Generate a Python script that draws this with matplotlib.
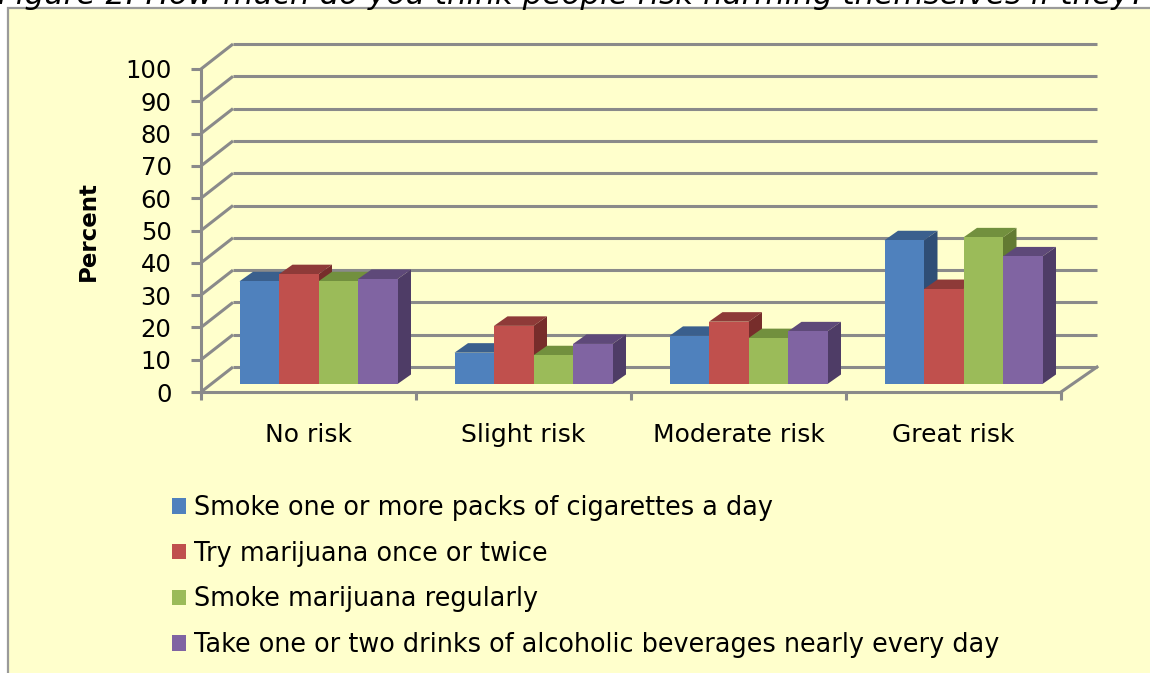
import matplotlib
matplotlib.use("Agg")
import matplotlib.pyplot as plt
from matplotlib.patches import Polygon, Rectangle, Patch

# ---------------- data ----------------
categories = ["No risk", "Slight risk", "Moderate risk", "Great risk"]
series_names = [
    "Smoke one or more packs of cigarettes a day",
    "Try marijuana once or twice",
    "Smoke marijuana regularly",
    "Take one or two drinks of alcoholic beverages nearly every day",
]
cigarettes = [31.8, 9.7, 14.9, 44.5]
marijuana_once = [34.0, 18.0, 19.3, 29.4]
marijuana_regular = [31.8, 8.9, 14.2, 45.4]
alcohol_daily = [32.5, 12.4, 16.3, 39.5]
y_ticks = list(range(0, 101, 10))
title_text = "Figure 2: How much do you think people risk harming themselves if they?"
y_label = "Percent"

series_values = [cigarettes, marijuana_once, marijuana_regular, alcohol_daily]
front_colors = ["#4F81BD", "#C0504D", "#9BBB59", "#8064A2"]
top_colors = ["#3A5F8D", "#8E3A38", "#72903E", "#5E4979"]
side_colors = ["#2F4E76", "#772D2B", "#627A32", "#4E3C66"]

W, H = 1150, 673
fig = plt.figure(figsize=(W / 100, H / 100), dpi=100)
fig.patch.set_facecolor("white")

# chart area box
fig.patches.append(Rectangle((7.5 / W, -0.05), 1.1, 1 - 8 / H + 0.05,
                             transform=fig.transFigure, facecolor="#FFFFCC",
                             edgecolor="#9A9A9A", linewidth=1.6, zorder=-5))

# cut-off title at top
fig.text(-2 / W, 1 - 4 / H, title_text, fontsize=22.3, style="italic",
         ha="left", va="baseline", color="black")

# front plane axes
x0, x1 = 201, 1061
y0, y1 = 392, 69
ax = fig.add_axes([x0 / W, 1 - y0 / H, (x1 - x0) / W, (y0 - y1) / H])
ax.set_zorder(2)
ax.set_facecolor("none")
ax.set_xlim(-0.5, 3.5)
ax.set_ylim(0, 100)

grid_col = "#8A8A8A"
lw = 2.2
for s in ["top", "right"]:
    ax.spines[s].set_visible(False)
for s in ["left", "bottom"]:
    ax.spines[s].set_color(grid_col)
    ax.spines[s].set_linewidth(lw)
    ax.spines[s].set_zorder(3)

ax.set_yticks(y_ticks)
ax.set_yticklabels([str(v) for v in y_ticks])
ax.tick_params(axis="y", direction="out", length=7.2, width=lw, color=grid_col,
               pad=14, labelsize=17.5)
ax.set_xticks([-0.5, 0.5, 1.5, 2.5, 3.5])
ax.set_xticklabels([])
ax.tick_params(axis="x", which="major", direction="out", length=5.8, width=lw,
               color=grid_col)
ax.set_xticks(range(len(categories)), minor=True)
ax.set_xticklabels(categories, minor=True)
ax.tick_params(axis="x", which="minor", length=0, pad=22, labelsize=18)

# 3D geometry (oblique projection in data units)
px_x = 215.0          # pixels per category
px_y = 3.23           # pixels per percent
back_left = -0.5 + 32 / px_x
back_right = 3.5 + 36 / px_x
DY = 25 / px_y


def back_x(x):
    return back_left + (x + 0.5) * (back_right - back_left) / 4.0


# walls and grid
for v in y_ticks:
    ax.plot([-0.5, back_x(-0.5)], [v, v + DY], color=grid_col, lw=lw,
            clip_on=False, zorder=1, solid_capstyle="butt")
    ax.plot([back_x(-0.5), back_x(3.5)], [v + DY, v + DY], color=grid_col,
            lw=lw, clip_on=False, zorder=1, solid_capstyle="butt")
ax.plot([3.5, back_x(3.5)], [0, DY], color=grid_col, lw=lw, clip_on=False,
        zorder=1)

# bars
bar_w = 39.5 / px_x
off_x = 10 / px_x
base = 8 / px_y
bdx = 13.5 / px_x
bdy = 9.5 / px_y
n = len(series_values)
for j, vals in enumerate(series_values):
    xs = [i + off_x + (j - (n - 1) / 2) * bar_w for i in range(len(categories))]
    ax.bar(xs, vals, width=bar_w, bottom=base, color=front_colors[j],
           edgecolor="none", zorder=11 + 2 * j, clip_on=False)
    for xc, v in zip(xs, vals):
        l, r = xc - bar_w / 2, xc + bar_w / 2
        top = base + v
        ax.add_patch(Polygon([(l, top), (r, top), (r + bdx, top + bdy),
                              (l + bdx, top + bdy)], closed=True,
                             facecolor=top_colors[j], edgecolor="none",
                             zorder=10 + 2 * j, clip_on=False))
        ax.add_patch(Polygon([(r, base), (r + bdx, base + bdy),
                              (r + bdx, top + bdy), (r, top)], closed=True,
                             facecolor=side_colors[j], edgecolor="none",
                             zorder=10 + 2 * j, clip_on=False))

# y label
fig.text(88 / W, 1 - 231 / H, y_label, rotation=90, ha="center", va="center",
         fontsize=16.5, fontweight="bold")

# legend
handles = [Patch(facecolor=c, edgecolor="none") for c in front_colors]
leg = fig.legend(handles, series_names, loc="upper left",
                 bbox_to_anchor=(172 / W, 1 - 495 / H),
                 bbox_transform=fig.transFigure, frameon=False,
                 fontsize=18.4, handlelength=0.55, handleheight=0.55,
                 handletextpad=0.32, labelspacing=0.77, borderpad=0,
                 borderaxespad=0)

fig.savefig("out.png", dpi=100, facecolor=fig.get_facecolor())
